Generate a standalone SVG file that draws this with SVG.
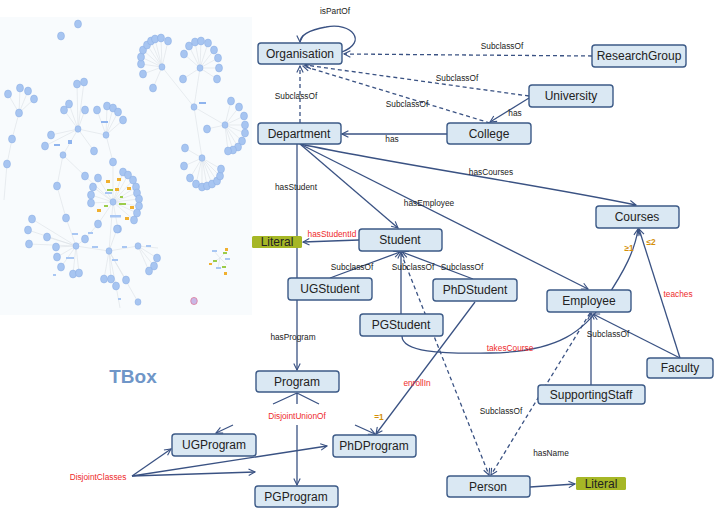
<svg xmlns="http://www.w3.org/2000/svg" width="720" height="512" viewBox="0 0 720 512">
<defs>
<style>
.box{fill:#dae8f3;stroke:#3c5a87;stroke-width:1.4}
.lit{fill:#a6b726;stroke:none}
.nt{font-family:"Liberation Sans",Arial,sans-serif;font-size:12px;fill:#222;text-anchor:middle}
.lt{font-family:"Liberation Sans",Arial,sans-serif;font-size:8.3px;fill:#222;text-anchor:middle}
.red{fill:#ee2b2b}
.org{fill:#d4900a;font-weight:bold}
.e{fill:none;stroke:#3a5283;stroke-width:1.3}
.d{stroke-dasharray:4 3}
.a{marker-end:url(#arr)}
.n{fill:#a7c5f1;stroke:#8aade2;stroke-width:0.5}
.sp{fill:none;stroke:#dbe1e6;stroke-width:0.6}
</style>
<marker id="arr" viewBox="0 0 10 10" refX="9" refY="5" markerWidth="8" markerHeight="8" orient="auto" markerUnits="userSpaceOnUse">
<path d="M1,1 L9,5 L1,9" fill="none" stroke="#3a5283" stroke-width="1.4"/>
</marker>
</defs>
<rect width="720" height="512" fill="#ffffff"/>

<g id="network">
<rect x="0" y="17" width="252" height="298" fill="#f8fbfd"/>
<path class="sp" d="M162,67 L141,64 M162,67 L141,57 M162,67 L143,50 M162,67 L147,45 M162,67 L151,41 M162,67 L155,39 M162,67 L161,38 M162,67 L168,41 M162,67 L143,74 M162,67 L153,88
M200,68 L184,54 M200,68 L189,46 M200,68 L195,42 M200,68 L201,41 M200,68 L208,43 M200,68 L214,50 M200,68 L218,58 M200,68 L219,68 M200,68 L217,79 M200,68 L183,79
M194,107 L162,67 M194,107 L200,68 M194,107 L225,125 M194,107 L202,158
M225,125 L231,101 M225,125 L239,107 M225,125 L244,116 M225,125 L245,125 M225,125 L245,133 M225,125 L242,141 M225,125 L238,147 M225,125 L233,150 M225,125 L228,151 M225,125 L207,129
M202,158 L185,148 M202,158 L184,166 M202,158 L190,178 M202,158 L196,184 M202,158 L202,187 M202,158 L207,186 M202,158 L212,184 M202,158 L217,181 M202,158 L220,176 M202,158 L221,169
M19,113 L8,94 M19,113 L20,88 M19,113 L28,91 M19,113 L34,99 M19,113 L12,139 L7,164 L4,200
M78,129 L77,84 M78,129 L84,82 M78,129 L85,110 M78,129 L69,104 M78,129 L64,110 M78,129 L51,135 M78,129 L45,146 M78,129 L63,155 M78,129 L94,151 M78,129 L106,135
M106,135 L97,110 M106,135 L107,106 M106,135 L113,108 M106,135 L118,112 M106,135 L123,120 M106,135 L113,162 L113,202
M63,155 L85,176 L113,202 M63,155 L57,186 L66,218 L76,246
M113,202 L123,172 M113,202 L128,175 M113,202 L133,180 M113,202 L136,187 M113,202 L137,193 M113,202 L139,199 M113,202 L139,206 M113,202 L137,213 M113,202 L134,220 M113,202 L118,229 M113,202 L98,224 M113,202 L91,203 M113,202 L91,195 M113,202 L93,187 M113,202 L98,178 M113,202 L109,251
M76,246 L32,219 M76,246 L28,230 M76,246 L29,244 M76,246 L47,237 M76,246 L56,247 M76,246 L57,257 M76,246 L61,267 M76,246 L73,274 M76,246 L79,273 M76,246 L85,239 L98,224 M76,246 L109,251
M109,251 L104,279 M109,251 L111,279 M109,251 L116,286 M109,251 L126,280 M109,251 L117,229 M109,251 L138,246 M109,251 L138,302 M116,286 L120,308
M138,246 L157,258 M138,246 L154,266 M138,246 L149,271 M138,246 L158,248
M220,258 L214,251 M220,258 L226,252 M220,258 L212,263 M220,258 L227,265 M220,258 L218,268"/>
<g>
<ellipse class="n" cx="78" cy="24" rx="3.5" ry="4"/><ellipse class="n" cx="61" cy="36" rx="3.5" ry="4"/>
<ellipse class="n" cx="162" cy="67" rx="3" ry="3.3"/>
<ellipse class="n" cx="141" cy="64" rx="3.5" ry="4"/><ellipse class="n" cx="141" cy="57" rx="3.5" ry="4"/><ellipse class="n" cx="143" cy="50" rx="3.5" ry="4"/><ellipse class="n" cx="147" cy="45" rx="3.5" ry="4"/><ellipse class="n" cx="151" cy="41" rx="3.5" ry="4"/><ellipse class="n" cx="155" cy="39" rx="3.5" ry="4"/><ellipse class="n" cx="161" cy="38" rx="3.5" ry="4"/><ellipse class="n" cx="168" cy="41" rx="3.5" ry="4"/><ellipse class="n" cx="143" cy="74" rx="3.5" ry="4"/><ellipse class="n" cx="153" cy="88" rx="3.5" ry="4"/>
<ellipse class="n" cx="200" cy="68" rx="3" ry="3.3"/>
<ellipse class="n" cx="184" cy="54" rx="3.5" ry="4"/><ellipse class="n" cx="189" cy="46" rx="3.5" ry="4"/><ellipse class="n" cx="195" cy="42" rx="3.5" ry="4"/><ellipse class="n" cx="201" cy="41" rx="3.5" ry="4"/><ellipse class="n" cx="208" cy="43" rx="3.5" ry="4"/><ellipse class="n" cx="214" cy="50" rx="3.5" ry="4"/><ellipse class="n" cx="218" cy="58" rx="3.5" ry="4"/><ellipse class="n" cx="219" cy="68" rx="3.5" ry="4"/><ellipse class="n" cx="217" cy="79" rx="3.5" ry="4"/><ellipse class="n" cx="183" cy="79" rx="3.5" ry="4"/>
<ellipse class="n" cx="194" cy="107" rx="3" ry="3.3"/><rect x="199" y="102" width="7" height="2" fill="#8fb4ee"/>
<ellipse class="n" cx="225" cy="125" rx="3" ry="3.3"/>
<ellipse class="n" cx="231" cy="101" rx="3.5" ry="4"/><ellipse class="n" cx="239" cy="107" rx="3.5" ry="4"/><ellipse class="n" cx="244" cy="116" rx="3.5" ry="4"/><ellipse class="n" cx="245" cy="125" rx="3.5" ry="4"/><ellipse class="n" cx="245" cy="133" rx="3.5" ry="4"/><ellipse class="n" cx="242" cy="141" rx="3.5" ry="4"/><ellipse class="n" cx="238" cy="147" rx="3.5" ry="4"/><ellipse class="n" cx="233" cy="150" rx="3.5" ry="4"/><ellipse class="n" cx="228" cy="151" rx="3.5" ry="4"/><ellipse class="n" cx="207" cy="129" rx="3.5" ry="4"/>
<ellipse class="n" cx="202" cy="158" rx="3" ry="3.3"/>
<ellipse class="n" cx="185" cy="148" rx="3.5" ry="4"/><ellipse class="n" cx="184" cy="166" rx="3.5" ry="4"/><ellipse class="n" cx="190" cy="178" rx="3.5" ry="4"/><ellipse class="n" cx="196" cy="184" rx="3.5" ry="4"/><ellipse class="n" cx="202" cy="187" rx="3.5" ry="4"/><ellipse class="n" cx="207" cy="186" rx="3.5" ry="4"/><ellipse class="n" cx="212" cy="184" rx="3.5" ry="4"/><ellipse class="n" cx="217" cy="181" rx="3.5" ry="4"/><ellipse class="n" cx="220" cy="176" rx="3.5" ry="4"/><ellipse class="n" cx="221" cy="169" rx="3.5" ry="4"/>
<ellipse class="n" cx="19" cy="113" rx="3.5" ry="4"/>
<ellipse class="n" cx="8" cy="94" rx="3.5" ry="4"/><ellipse class="n" cx="20" cy="88" rx="3.5" ry="4"/><ellipse class="n" cx="28" cy="91" rx="3.5" ry="4"/><ellipse class="n" cx="34" cy="99" rx="3.5" ry="4"/><ellipse class="n" cx="12" cy="139" rx="3.5" ry="4"/><ellipse class="n" cx="7" cy="164" rx="3.5" ry="4"/>
<ellipse class="n" cx="78" cy="129" rx="3" ry="3.3"/>
<ellipse class="n" cx="77" cy="84" rx="3.5" ry="4"/><ellipse class="n" cx="84" cy="82" rx="3.5" ry="4"/><ellipse class="n" cx="85" cy="110" rx="3.5" ry="4"/><ellipse class="n" cx="69" cy="104" rx="3.5" ry="4"/><ellipse class="n" cx="64" cy="110" rx="3.5" ry="4"/><ellipse class="n" cx="51" cy="135" rx="3.5" ry="4"/><ellipse class="n" cx="45" cy="146" rx="3.5" ry="4"/><ellipse class="n" cx="63" cy="155" rx="3" ry="3.3"/><ellipse class="n" cx="94" cy="151" rx="3.5" ry="4"/><rect x="68" y="140" width="4" height="4" fill="#8fb4ee"/><rect x="54" y="144" width="6" height="2" fill="#8fb4ee"/>
<ellipse class="n" cx="106" cy="135" rx="3" ry="3.3"/>
<ellipse class="n" cx="97" cy="110" rx="3.5" ry="4"/><ellipse class="n" cx="107" cy="106" rx="3.5" ry="4"/><ellipse class="n" cx="113" cy="108" rx="3.5" ry="4"/><ellipse class="n" cx="118" cy="112" rx="3.5" ry="4"/><ellipse class="n" cx="123" cy="120" rx="3.5" ry="4"/><rect x="101" y="121" width="7" height="2" fill="#8fb4ee"/>
<ellipse class="n" cx="113" cy="162" rx="3.5" ry="4"/><ellipse class="n" cx="85" cy="176" rx="3.5" ry="4"/><ellipse class="n" cx="57" cy="186" rx="3.5" ry="4"/><ellipse class="n" cx="66" cy="218" rx="3.5" ry="4"/>
<ellipse class="n" cx="113" cy="202" rx="3" ry="3.3"/>
<ellipse class="n" cx="123" cy="172" rx="3.5" ry="4"/><ellipse class="n" cx="128" cy="175" rx="3.5" ry="4"/><ellipse class="n" cx="133" cy="180" rx="3.5" ry="4"/><ellipse class="n" cx="136" cy="187" rx="3.5" ry="4"/><ellipse class="n" cx="137" cy="193" rx="3.5" ry="4"/><ellipse class="n" cx="139" cy="199" rx="3.5" ry="4"/><ellipse class="n" cx="139" cy="206" rx="3.5" ry="4"/><ellipse class="n" cx="137" cy="213" rx="3.5" ry="4"/><ellipse class="n" cx="134" cy="220" rx="3.5" ry="4"/><ellipse class="n" cx="118" cy="229" rx="3.5" ry="4"/><ellipse class="n" cx="98" cy="224" rx="3.5" ry="4"/><ellipse class="n" cx="91" cy="203" rx="3.5" ry="4"/><ellipse class="n" cx="91" cy="195" rx="3.5" ry="4"/><ellipse class="n" cx="93" cy="187" rx="3.5" ry="4"/><ellipse class="n" cx="98" cy="178" rx="3.5" ry="4"/>
<rect x="107" y="189" width="6" height="2" fill="#9ccc4a"/><rect x="115" y="188" width="4" height="3" fill="#f0b030"/><rect x="106" y="180" width="4" height="3" fill="#f0b030"/><rect x="117" y="178" width="4" height="3" fill="#f0b030"/><rect x="127" y="187" width="4" height="3" fill="#f0b030"/><rect x="119" y="203" width="7" height="2" fill="#9ccc4a"/><rect x="104" y="205" width="4" height="2" fill="#9ccc4a"/><rect x="97" y="209" width="4" height="3" fill="#f0b030"/><rect x="125" y="217" width="4" height="3" fill="#f0b030"/><rect x="130" y="206" width="4" height="3" fill="#f0b030"/><rect x="110" y="215" width="11" height="2.5" fill="#a9c7f3"/><rect x="105" y="192" width="7" height="2" fill="#a9c7f3"/><rect x="120" y="196" width="3" height="2" fill="#9ccc4a"/>
<ellipse class="n" cx="76" cy="246" rx="3" ry="3.3"/>
<ellipse class="n" cx="32" cy="219" rx="3.5" ry="4"/><ellipse class="n" cx="28" cy="230" rx="3.5" ry="4"/><ellipse class="n" cx="29" cy="244" rx="3.5" ry="4"/><ellipse class="n" cx="47" cy="237" rx="3.5" ry="4"/><ellipse class="n" cx="56" cy="247" rx="3.5" ry="4"/><ellipse class="n" cx="57" cy="257" rx="3.5" ry="4"/><ellipse class="n" cx="61" cy="267" rx="3.5" ry="4"/><ellipse class="n" cx="73" cy="274" rx="3.5" ry="4"/><ellipse class="n" cx="79" cy="273" rx="3.5" ry="4"/><ellipse class="n" cx="85" cy="239" rx="3.5" ry="4"/><rect x="72" y="233" width="6" height="2" fill="#a9c7f3"/><rect x="88" y="232" width="5" height="2" fill="#a9c7f3"/><rect x="66" y="257" width="8" height="2" fill="#a9c7f3"/><rect x="53" y="274" width="3" height="2" fill="#a9c7f3"/>
<ellipse class="n" cx="109" cy="251" rx="3" ry="3.3"/>
<ellipse class="n" cx="104" cy="279" rx="3.5" ry="4"/><ellipse class="n" cx="111" cy="279" rx="3.5" ry="4"/><ellipse class="n" cx="116" cy="286" rx="3.5" ry="4"/><ellipse class="n" cx="126" cy="280" rx="3.5" ry="4"/><ellipse class="n" cx="117" cy="229" rx="3.5" ry="4"/><rect x="92" y="246" width="6" height="2" fill="#a9c7f3"/><rect x="122" y="246" width="5" height="2" fill="#a9c7f3"/><rect x="112" y="259" width="6" height="2" fill="#a9c7f3"/><rect x="118" y="298" width="3" height="2" fill="#a9c7f3"/>
<ellipse class="n" cx="138" cy="246" rx="3" ry="3.3"/>
<ellipse class="n" cx="157" cy="258" rx="3.5" ry="4"/><ellipse class="n" cx="154" cy="266" rx="3.5" ry="4"/><ellipse class="n" cx="149" cy="271" rx="3.5" ry="4"/><ellipse class="n" cx="138" cy="302" rx="3" ry="3.3"/><rect x="146" y="245" width="5" height="2" fill="#a9c7f3"/>
<rect x="212" y="250" width="5" height="2" fill="#a9c7f3"/><rect x="225" y="248" width="3" height="3" fill="#f0b030"/><rect x="223" y="252" width="4" height="2" fill="#9ccc4a"/><rect x="225" y="258" width="5" height="2" fill="#a9c7f3"/><rect x="213" y="260" width="4" height="2" fill="#9ccc4a"/><rect x="209" y="263" width="3" height="2" fill="#f0b030"/><rect x="216" y="267" width="5" height="2" fill="#a9c7f3"/><rect x="222" y="266" width="4" height="2" fill="#9ccc4a"/><rect x="224" y="272" width="3" height="3" fill="#f0b030"/>
<ellipse cx="194" cy="301" rx="3.3" ry="3.6" fill="#c9b8e6" stroke="#e07090" stroke-width="0.7"/>
</g>
</g>

<text x="133" y="383" font-family="Liberation Sans,Arial,sans-serif" font-size="19" font-weight="bold" fill="#6f96c8" text-anchor="middle">TBox</text>

<g id="connectors">
<path class="e a" d="M342,52 C368,42 352,22 326,27 C308,30 300,36 300,42"/>
<path class="e d a" d="M592,56 L344,54"/>
<path class="e d a" d="M529,96 L305,65"/>
<path class="e d a" d="M490,123 L303,66"/>
<path class="e d a" d="M300,123 L300,66"/>
<path class="e a" d="M447,134 L342,134"/>
<path class="e a" d="M529,98 L490,122"/>
<path class="e a" d="M300,144 C400,165 540,185 636,205"/>
<path class="e a" d="M300,144 L398,228"/>
<path class="e a" d="M300,144 L588,289"/>
<path class="e a" d="M297,144 L297,370"/>
<path class="e a" d="M359,240 L303,242"/>
<path class="e a" d="M330,278 L400,252"/>
<path class="e a" d="M401,314 L401,252"/>
<path class="e a" d="M473,279 L402,252"/>
<path class="e d a" d="M401,253 L489,475"/>
<path class="e d a" d="M590,313 L491,475"/>
<path class="e a" d="M591,385 L591,313"/>
<path class="e a" d="M680,358 L593,314"/>
<path class="e a" d="M680,358 L639,229"/>
<path class="e a" d="M402,336 C402,352 440,354 490,353 C560,352 585,330 605,300 C625,270 635,250 638,229"/>
<path class="e a" d="M475,302 L376,434"/>
<path class="e" d="M297,393 L273,404 M297,393 L297,404 M297,393 L319,404"/>
<path class="e a" d="M233,425 L216,433"/>
<path class="e a" d="M297,425 L297,485"/>
<path class="e a" d="M355,425 L375,434"/>
<path class="e a" d="M132,476 L171,449"/>
<path class="e a" d="M132,476 L327,446"/>
<path class="e a" d="M132,476 L255,472"/>
<path class="e a" d="M530,487 L575,484"/>

<text class="lt" x="335" y="14">isPartOf</text>
<text class="lt" x="502" y="49">SubclassOf</text>
<text class="lt" x="457" y="81">SubclassOf</text>
<text class="lt" x="407" y="107">SubclassOf</text>
<text class="lt" x="296" y="99">SubclassOf</text>
<text class="lt" x="392" y="142">has</text>
<text class="lt" x="515" y="116">has</text>
<text class="lt" x="491" y="175">hasCourses</text>
<text class="lt" x="429" y="206">hasEmployee</text>
<text class="lt" x="296" y="190">hasStudent</text>
<text class="lt" x="293" y="340">hasProgram</text>
<text class="lt red" x="332" y="237">hasStudentId</text>
<text class="lt" x="352" y="270">SubclassOf</text>
<text class="lt" x="413" y="270">SubclassOf</text>
<text class="lt" x="462" y="270">SubclassOf</text>
<text class="lt" x="608" y="337">SubclassOf</text>
<text class="lt red" x="678" y="297">teaches</text>
<text class="lt org" x="651" y="245">≤2</text>
<text class="lt org" x="629" y="251">≥1</text>
<text class="lt red" x="510" y="351">takesCourse</text>
<text class="lt red" x="417" y="386">enrollIn</text>
<text class="lt org" x="379" y="420">=1</text>
<text class="lt red" x="297" y="419">DisjointUnionOf</text>
<text class="lt red" x="98" y="480">DisjointClasses</text>
<text class="lt" x="501" y="414">SubclassOf</text>
<text class="lt" x="551" y="456">hasName</text>
</g>

<g id="Organisation"><rect class="box" x="258" y="43" width="84" height="21" rx="3"/><text class="nt" x="300" y="58">Organisation</text></g>
<g id="ResearchGroup"><rect class="box" x="592" y="45" width="94" height="22" rx="3"/><text class="nt" x="639" y="60">ResearchGroup</text></g>
<g id="University"><rect class="box" x="529" y="85" width="84" height="22" rx="3"/><text class="nt" x="571" y="100">University</text></g>
<g id="Department"><rect class="box" x="258" y="123" width="83" height="21" rx="3"/><text class="nt" x="299" y="138">Department</text></g>
<g id="College"><rect class="box" x="447" y="123" width="84" height="21" rx="3"/><text class="nt" x="489" y="138">College</text></g>
<g id="Courses"><rect class="box" x="596" y="206" width="83" height="22" rx="3"/><text class="nt" x="637" y="221">Courses</text></g>
<g id="Student"><rect class="box" x="359" y="229" width="83" height="22" rx="3"/><text class="nt" x="400" y="244">Student</text></g>
<g id="Literal1"><rect class="lit" x="252" y="236" width="50" height="12" rx="1.5"/><text class="nt" x="277" y="246">Literal</text></g>
<g id="UGStudent"><rect class="box" x="288" y="278" width="84" height="22" rx="3"/><text class="nt" x="330" y="293">UGStudent</text></g>
<g id="PhDStudent"><rect class="box" x="433" y="279" width="84" height="22" rx="3"/><text class="nt" x="475" y="294">PhDStudent</text></g>
<g id="PGStudent"><rect class="box" x="360" y="314" width="83" height="22" rx="3"/><text class="nt" x="401" y="329">PGStudent</text></g>
<g id="Employee"><rect class="box" x="547" y="290" width="84" height="22" rx="3"/><text class="nt" x="589" y="305">Employee</text></g>
<g id="Faculty"><rect class="box" x="647" y="358" width="66" height="20" rx="3"/><text class="nt" x="680" y="372">Faculty</text></g>
<g id="SupportingStaff"><rect class="box" x="538" y="385" width="107" height="19" rx="3"/><text class="nt" x="591" y="399">SupportingStaff</text></g>
<g id="Program"><rect class="box" x="256" y="371" width="83" height="21" rx="3"/><text class="nt" x="297" y="386">Program</text></g>
<g id="UGProgram"><rect class="box" x="172" y="434" width="84" height="22" rx="3"/><text class="nt" x="214" y="449">UGProgram</text></g>
<g id="PhDProgram"><rect class="box" x="333" y="435" width="83" height="22" rx="3"/><text class="nt" x="374" y="450">PhDProgram</text></g>
<g id="PGProgram"><rect class="box" x="255" y="486" width="83" height="21" rx="3"/><text class="nt" x="296" y="501">PGProgram</text></g>
<g id="Person"><rect class="box" x="447" y="476" width="83" height="21" rx="3"/><text class="nt" x="488" y="491">Person</text></g>
<g id="Literal2"><rect class="lit" x="576" y="477" width="50" height="13" rx="1.5"/><text class="nt" x="601" y="488">Literal</text></g>
</svg>
